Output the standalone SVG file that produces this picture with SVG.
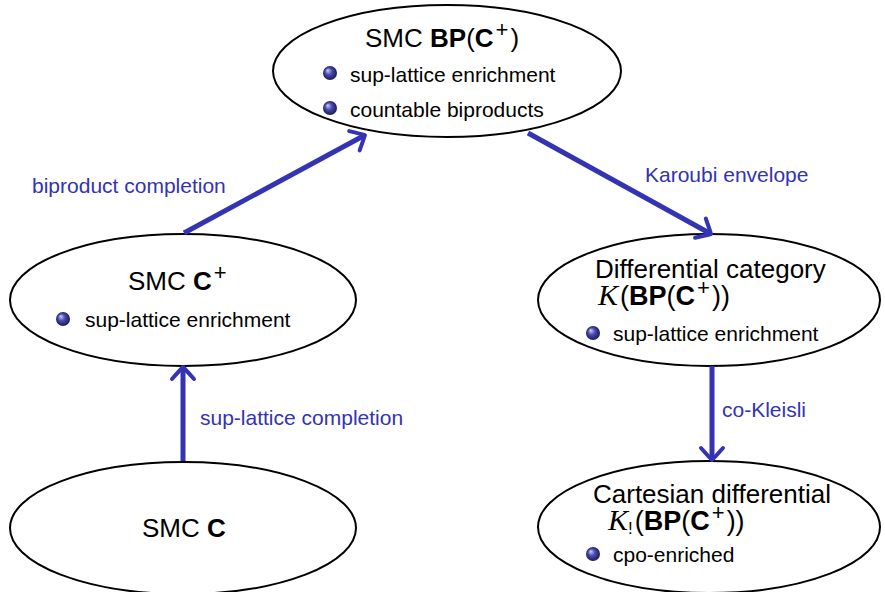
<svg xmlns="http://www.w3.org/2000/svg" width="885" height="592" viewBox="0 0 885 592">
  <style>
    .node ellipse { fill: #ffffff; stroke: #000000; stroke-width: 2; }
    .title { font-family: "Liberation Sans", Arial, sans-serif; font-size: 26px; fill: #000000; }
    .math { font-size: 27px; }
    .item { font-family: "Liberation Sans", Arial, sans-serif; font-size: 21px; fill: #000000; }
    .b { font-weight: bold; }
    .cal { font-family: "Liberation Serif", "Times New Roman", serif; font-style: italic; font-size: 30px; }
    .sup { font-size: 22px; }
    .sub { font-size: 17px; }
    .label { font-family: "Liberation Sans", Arial, sans-serif; font-size: 21px; fill: #3333b3; }
    .edge { stroke: #3333b3; stroke-width: 5; fill: none; marker-end: url(#head); }
    .ball { fill: url(#ballGrad); }
  </style>
  <defs>
    <radialGradient id="ballGrad" cx="0.5" cy="0.5" r="0.55" fx="0.32" fy="0.3">
      <stop offset="0" stop-color="#d0d0ff"/>
      <stop offset="0.45" stop-color="#4a4ab0"/>
      <stop offset="1" stop-color="#14144a"/>
    </radialGradient>
    <marker id="head" markerUnits="userSpaceOnUse" orient="auto" refX="0" refY="0" markerWidth="30" markerHeight="30" overflow="visible">
      <path d="M -10 -11 Q -1 -3 2 0 Q -1 3 -10 11" fill="none" stroke="#3333b3" stroke-width="4" stroke-linecap="round" stroke-linejoin="round"/>
    </marker>
  </defs>

  <!-- top node: SMC BP(C+) -->
  <g id="node-bp" class="node">
    <ellipse cx="447" cy="71" rx="174" ry="66"/>
    <text class="title" x="365" y="47">SMC <tspan class="b">BP</tspan>(<tspan class="b">C</tspan><tspan class="sup" dx="2" dy="-10">+</tspan><tspan dx="2" dy="10">)</tspan></text>
    <circle class="ball" cx="330" cy="73" r="7"/>
    <text class="item" x="350" y="82">sup-lattice enrichment</text>
    <circle class="ball" cx="330" cy="108" r="7"/>
    <text class="item" x="350" y="117">countable biproducts</text>
  </g>

  <!-- left middle node: SMC C+ -->
  <g id="node-cplus" class="node">
    <ellipse cx="183" cy="300" rx="173" ry="66"/>
    <text class="title" x="128" y="290">SMC <tspan class="b">C</tspan><tspan class="sup" dx="2" dy="-10">+</tspan></text>
    <circle class="ball" cx="63" cy="319" r="7"/>
    <text class="item" x="85" y="327">sup-lattice enrichment</text>
  </g>

  <!-- bottom left node: SMC C -->
  <g id="node-c" class="node">
    <ellipse cx="183" cy="528" rx="173" ry="66"/>
    <text class="title" x="142" y="537">SMC <tspan class="b">C</tspan></text>
  </g>

  <!-- right middle node: differential category -->
  <g id="node-diff" class="node">
    <ellipse cx="709" cy="300" rx="171" ry="66"/>
    <text class="title" x="595" y="278">Differential category</text>
    <text class="title math" x="598" y="305"><tspan class="cal">K</tspan><tspan dx="2">(</tspan><tspan class="b">BP</tspan>(<tspan class="b">C</tspan><tspan class="sup" dx="2" dy="-10">+</tspan><tspan dx="2" dy="10">))</tspan></text>
    <circle class="ball" cx="593" cy="333" r="7"/>
    <text class="item" x="613" y="341">sup-lattice enrichment</text>
  </g>

  <!-- right bottom node: cartesian differential category -->
  <g id="node-cartdiff" class="node">
    <ellipse cx="709" cy="527" rx="171" ry="66"/>
    <text class="title" x="593" y="503">Cartesian differential</text>
    <text class="title math" x="608" y="530"><tspan class="cal">K</tspan><tspan class="sub" dy="4">!</tspan><tspan dx="2" dy="-4">(</tspan><tspan class="b">BP</tspan>(<tspan class="b">C</tspan><tspan class="sup" dx="2" dy="-10">+</tspan><tspan dx="2" dy="10">))</tspan></text>
    <circle class="ball" cx="593" cy="554" r="7"/>
    <text class="item" x="613" y="562">cpo-enriched</text>
  </g>

  <!-- connectors -->
  <g id="edges">
    <line class="edge" x1="184" y1="233" x2="363.2" y2="136"/>
    <line class="edge" x1="528" y1="133" x2="709.2" y2="233"/>
    <line class="edge" x1="183" y1="461" x2="183" y2="369"/>
    <line class="edge" x1="712" y1="366" x2="712" y2="458"/>
    <text class="label" x="32" y="193">biproduct completion</text>
    <text class="label" x="645" y="182">Karoubi envelope</text>
    <text class="label" x="200" y="425">sup-lattice completion</text>
    <text class="label" x="722" y="417">co-Kleisli</text>
  </g>
</svg>
